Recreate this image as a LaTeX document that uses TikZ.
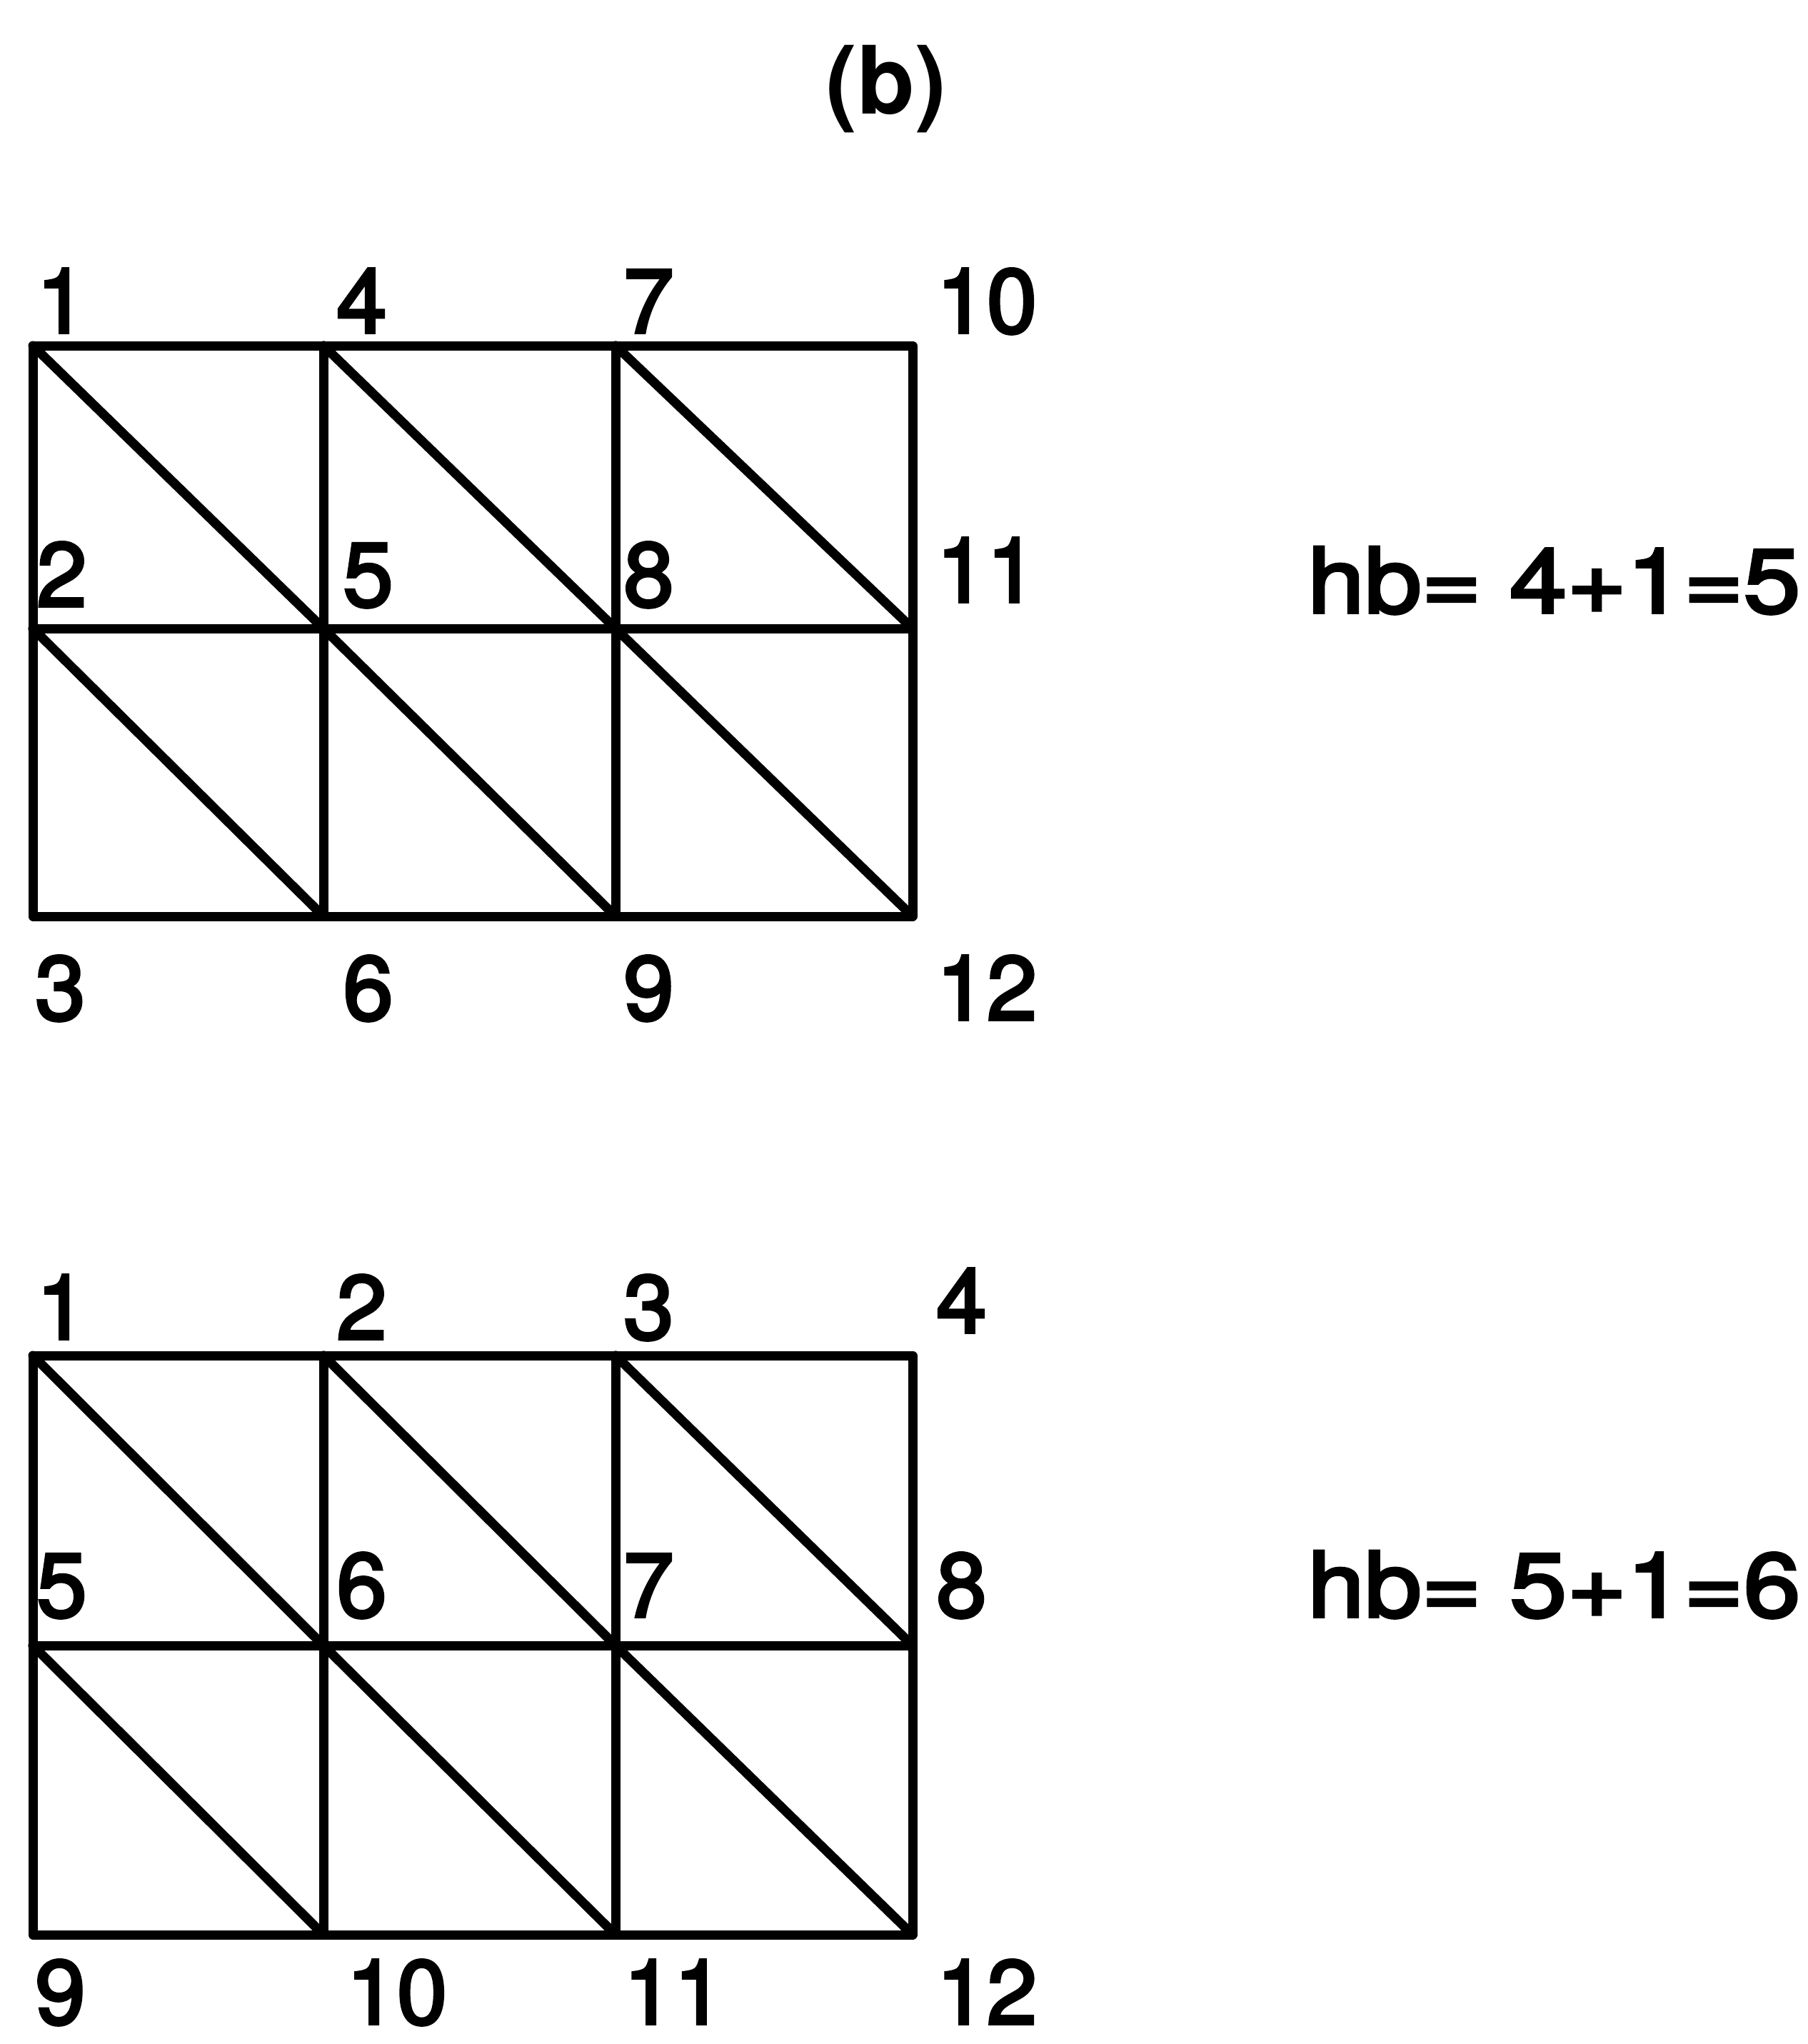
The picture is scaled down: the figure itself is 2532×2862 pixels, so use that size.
\documentclass[tikz,border=0pt]{standalone}
\usepackage{fontspec}
\setmainfont{TeX Gyre Heros}
\begin{document}
\begin{tikzpicture}[x=1pt,y=-1pt,
  gridline/.style={line width=13pt, line cap=round, line join=round},
  lbl/.style={anchor=base west, inner sep=0pt, font=\fontsize{127}{150}\selectfont\addfontfeature{FakeBold=3}},
  eqn/.style={anchor=base west, inner sep=0pt, font=\fontsize{127}{150}\selectfont\addfontfeature{FakeBold=3}},
  ttl/.style={anchor=base, inner sep=0pt, font=\fontsize{132}{150}\selectfont\bfseries}]
\useasboundingbox (0,0) rectangle (2532,2862);
% vertices
\foreach \x [count=\i] in {46,453,862,1278}{
  \foreach \y [count=\j] in {484,880,1283}{
    \coordinate (a\i\j) at (\x,\y);
  }
  \foreach \y [count=\j] in {1898,2304,2709}{
    \coordinate (b\i\j) at (\x,\y);
  }
}
% grids
\foreach \g in {a,b}{
  \draw[gridline] (\g11) rectangle (\g43);
  \draw[gridline] (\g12) -- (\g42);
  \draw[gridline] (\g21) -- (\g23);
  \draw[gridline] (\g31) -- (\g33);
  \foreach \i [evaluate=\i as \k using int(\i+1)] in {1,2,3}{
    \foreach \j [evaluate=\j as \m using int(\j+1)] in {1,2}{
      \draw[gridline] (\g\i\j) -- (\g\k\m);
    }
  }
}
% title
\node[ttl] (title) at (1241,159) {(b)};
% top labels
\node[lbl] (t1) at (51,466) {1};
\node[lbl] (t4) at (471,466) {4};
\node[lbl] (t7) at (873,466) {7};
\node[lbl] (t10) at (1311,466) {10};
\node[lbl] (t2) at (51,849) {2};
\node[lbl] (t5) at (480,849) {5};
\node[lbl] (t8) at (873,849) {8};
\node[lbl] (t11) at (1311,843) {11};
\node[lbl] (t3) at (49,1428) {3};
\node[lbl] (t6) at (480,1428) {6};
\node[lbl] (t9) at (873,1428) {9};
\node[lbl] (t12) at (1311,1428) {12};
\node[eqn] (hb1) at (1831,858) {\scalebox{1.13}[1]{hb= 4+1=5}};
% bottom labels
\node[lbl] (s1) at (51,1875) {1};
\node[lbl] (s2) at (471,1875) {2};
\node[lbl] (s3) at (873,1875) {3};
\node[lbl] (s4) at (1311,1866) {4};
\node[lbl] (s5) at (51,2264) {5};
\node[lbl] (s6) at (471,2264) {6};
\node[lbl] (s7) at (873,2264) {7};
\node[lbl] (s8) at (1311,2264) {8};
\node[lbl] (s9) at (49,2834) {9};
\node[lbl] (s10) at (485,2834) {10};
\node[lbl] (s11) at (873,2834) {11};
\node[lbl] (s12) at (1311,2834) {12};
\node[eqn] (hb2) at (1831,2264) {\scalebox{1.13}[1]{hb= 5+1=6}};
\end{tikzpicture}
\end{document}
